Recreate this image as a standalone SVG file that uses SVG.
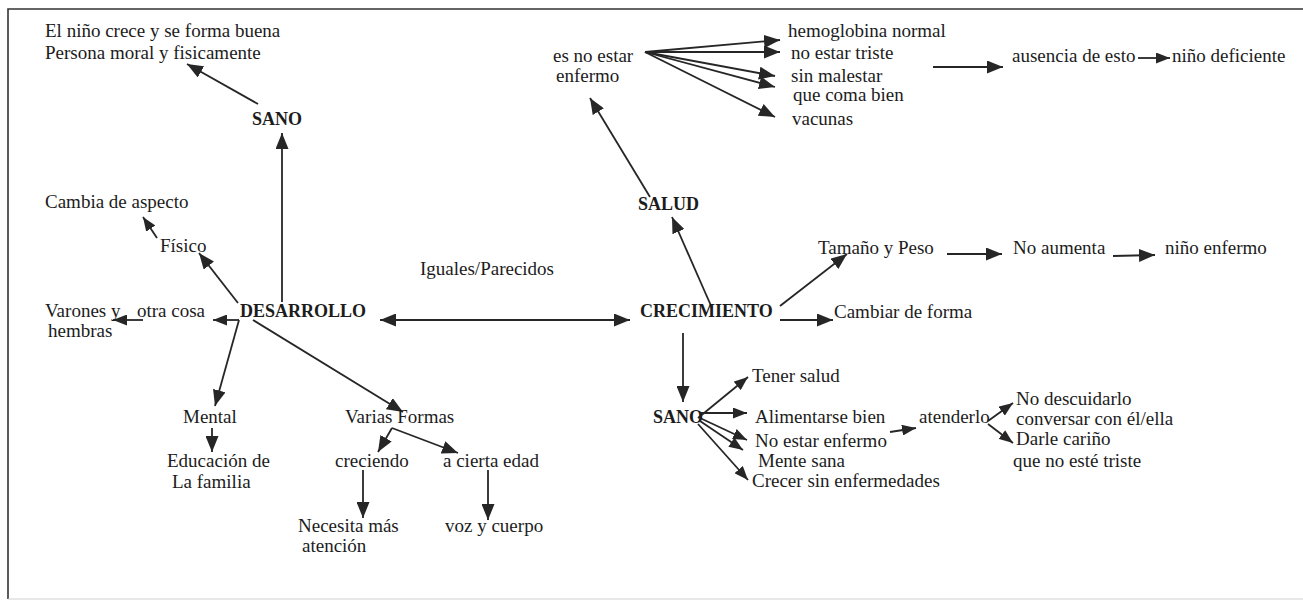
<svg xmlns="http://www.w3.org/2000/svg" width="1303" height="603" viewBox="0 0 1303 603">
  <style>
    text { font-family: "Liberation Serif", "Times New Roman", serif; font-size: 19px; fill: #1c1c1c; }
    text.b { font-weight: bold; font-size: 18px; }
    .c line { stroke: #262626; stroke-width: 1.8; fill: none; marker-end: url(#ah); }
    .c line.sm { marker-end: url(#ahs); }
    .c line.both { marker-start: url(#ah); }
    .frame { stroke: #333; stroke-width: 1.6; fill: none; }
  </style>
  <defs>
    <marker id="ah" markerUnits="userSpaceOnUse" markerWidth="17" markerHeight="13" refX="16" refY="6.5" orient="auto-start-reverse">
      <path d="M0,0 L16,6.5 L0,13 z" fill="#262626"/>
    </marker>
    <marker id="ahs" markerUnits="userSpaceOnUse" markerWidth="15" markerHeight="11" refX="14" refY="5.5" orient="auto-start-reverse">
      <path d="M0,0 L14,5.5 L0,11 z" fill="#262626"/>
    </marker>
  </defs>

  <rect width="1303" height="603" fill="#fff"/>

  <!-- page frame -->
  <path class="frame" d="M1303,9 H8 V599"/>
  <line x1="8" y1="599" x2="1303" y2="599" stroke="#d0d0d0" stroke-width="1.2"/>

  <!-- connectors -->
  <g id="connectors" class="c">
    <line x1="258" y1="104" x2="187" y2="64"/>
    <line x1="282" y1="302" x2="282" y2="133"/>
    <line x1="157" y1="238" x2="143" y2="217" class="sm"/>
    <line x1="238" y1="303" x2="199" y2="253"/>
    <line x1="143" y1="320" x2="113" y2="320" class="sm"/>
    <line x1="239" y1="320" x2="213" y2="320" class="sm"/>
    <line x1="239" y1="320" x2="215" y2="406"/>
    <line x1="253" y1="320" x2="403" y2="412"/>
    <line x1="212" y1="428" x2="212" y2="452"/>
    <line x1="392" y1="428" x2="378" y2="452"/>
    <line x1="392" y1="428" x2="458" y2="453"/>
    <line x1="363" y1="470" x2="363" y2="518"/>
    <line x1="488" y1="470" x2="488" y2="520"/>
    <line x1="380" y1="320" x2="630" y2="320" class="both"/>
    <line x1="712" y1="308" x2="672" y2="217"/>
    <line x1="650" y1="197" x2="590" y2="98"/>
    <line x1="645" y1="52" x2="780" y2="40"/>
    <line x1="645" y1="52" x2="780" y2="52"/>
    <line x1="645" y1="52" x2="775" y2="76"/>
    <line x1="645" y1="52" x2="775" y2="87"/>
    <line x1="645" y1="52" x2="775" y2="117"/>
    <line x1="933" y1="67" x2="1003" y2="67"/>
    <line x1="1138" y1="58" x2="1170" y2="58" class="sm"/>
    <line x1="683" y1="333" x2="683" y2="402"/>
    <line x1="780" y1="306" x2="847" y2="254"/>
    <line x1="780" y1="320" x2="833" y2="320"/>
    <line x1="947" y1="254" x2="1002" y2="254"/>
    <line x1="1113" y1="256" x2="1155" y2="255"/>
    <line x1="698" y1="418" x2="748" y2="377" class="sm"/>
    <line x1="700" y1="413" x2="747" y2="413" class="sm"/>
    <line x1="700" y1="418" x2="747" y2="440" class="sm"/>
    <line x1="700" y1="421" x2="743" y2="450" class="sm"/>
    <line x1="698" y1="424" x2="748" y2="480" class="sm"/>
    <line x1="890" y1="432" x2="916" y2="428" class="sm"/>
    <line x1="988" y1="421" x2="1013" y2="403" class="sm"/>
    <line x1="988" y1="424" x2="1013" y2="443" class="sm"/>
  </g>

  <!-- left branch: DESARROLLO -->
  <g id="n-sano-def"><text x="45" y="37">El niño crece y se forma buena</text><text x="45" y="59">Persona moral y fisicamente</text></g>
  <g id="n-sano-top"><text class="b" x="252" y="125">SANO</text></g>
  <g id="n-cambia"><text x="45" y="208">Cambia de aspecto</text></g>
  <g id="n-fisico"><text x="160" y="252">Físico</text></g>
  <g id="n-desarrollo"><text class="b" x="240" y="317">DESARROLLO</text></g>
  <g id="n-varones"><text x="45" y="317">Varones y</text><text x="48" y="337">hembras</text></g>
  <g id="n-otra"><text x="137" y="317">otra cosa</text></g>
  <g id="n-mental"><text x="183" y="423">Mental</text></g>
  <g id="n-educacion"><text x="167" y="467">Educación de</text><text x="172" y="488">La familia</text></g>
  <g id="n-varias"><text x="345" y="423">Varias Formas</text></g>
  <g id="n-creciendo"><text x="335" y="467">creciendo</text></g>
  <g id="n-cierta"><text x="443" y="467">a cierta edad</text></g>
  <g id="n-necesita"><text x="298" y="532">Necesita más</text><text x="302" y="552">atención</text></g>
  <g id="n-voz"><text x="445" y="532">voz y cuerpo</text></g>

  <!-- link label -->
  <g id="n-iguales"><text x="420" y="275">Iguales/Parecidos</text></g>

  <!-- right branch: CRECIMIENTO -->
  <g id="n-crecimiento"><text class="b" x="640" y="317">CRECIMIENTO</text></g>
  <g id="n-salud"><text class="b" x="638" y="210">SALUD</text></g>
  <g id="n-noestar"><text x="553" y="62">es no estar</text><text x="556" y="82">enfermo</text></g>
  <g id="n-hemo"><text x="788" y="37">hemoglobina normal</text></g>
  <g id="n-triste"><text x="791" y="59">no estar triste</text></g>
  <g id="n-malestar"><text x="791" y="82">sin malestar</text></g>
  <g id="n-coma"><text x="793" y="101">que coma bien</text></g>
  <g id="n-vacunas"><text x="792" y="125">vacunas</text></g>
  <g id="n-ausencia"><text x="1012" y="62">ausencia de esto</text></g>
  <g id="n-deficiente"><text x="1172" y="62">niño deficiente</text></g>
  <g id="n-tamano"><text x="818" y="254">Tamaño y Peso</text></g>
  <g id="n-noaumenta"><text x="1013" y="254">No aumenta</text></g>
  <g id="n-enfermo"><text x="1165" y="254">niño enfermo</text></g>
  <g id="n-cambiar"><text x="834" y="318">Cambiar de forma</text></g>
  <g id="n-sano-bottom"><text class="b" x="653" y="423">SANO</text></g>
  <g id="n-tener"><text x="752" y="382">Tener salud</text></g>
  <g id="n-alimentarse"><text x="755" y="423">Alimentarse bien</text></g>
  <g id="n-noenfermo"><text x="755" y="447">No estar enfermo</text></g>
  <g id="n-mente"><text x="758" y="467">Mente sana</text></g>
  <g id="n-crecer"><text x="752" y="487">Crecer sin enfermedades</text></g>
  <g id="n-atenderlo"><text x="919" y="423">atenderlo</text></g>
  <g id="n-descuidarlo"><text x="1016" y="405">No descuidarlo</text><text x="1016" y="425">conversar con él/ella</text></g>
  <g id="n-carino"><text x="1016" y="445">Darle cariño</text><text x="1013" y="467">que no esté triste</text></g>
</svg>
